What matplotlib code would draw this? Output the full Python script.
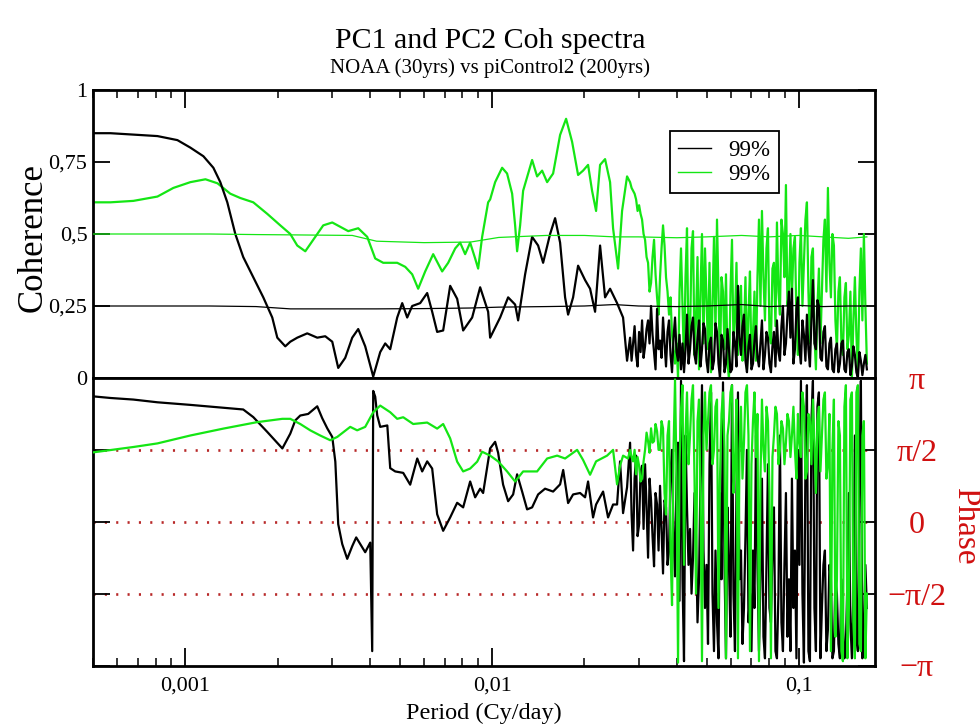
import numpy as np
import matplotlib
matplotlib.use('Agg')
import matplotlib.pyplot as plt
from matplotlib.ticker import FixedLocator, FixedFormatter, LogLocator, NullFormatter
from matplotlib.lines import Line2D

plt.rcParams['font.family'] = ['Liberation Serif', 'DejaVu Serif']

# ---------------- data ----------------
# shared high-frequency grid (cy/day)
f_hi = [0.02816, 0.02848, 0.02880, 0.02913, 0.02946, 0.02979, 0.03013, 0.03047, 0.03081, 0.03116,
        0.03151, 0.03187, 0.03223, 0.03259, 0.03296, 0.03333, 0.03371, 0.03409, 0.03448, 0.03487,
        0.03526, 0.03566, 0.03606, 0.03647, 0.03688, 0.03730, 0.03772, 0.03815, 0.03858, 0.03902,
        0.03946, 0.03991, 0.04036, 0.04081, 0.04127, 0.04174, 0.04221, 0.04269, 0.04317, 0.04366,
        0.04416, 0.04466, 0.04516, 0.04567, 0.04619, 0.04671, 0.04724, 0.04777, 0.04831, 0.04886,
        0.04941, 0.04997, 0.05054, 0.05111, 0.05169, 0.05227, 0.05286, 0.05346, 0.05407, 0.05468,
        0.05530, 0.05593, 0.05656, 0.05720, 0.05784, 0.05850, 0.05916, 0.05983, 0.06051, 0.06119,
        0.06188, 0.06258, 0.06329, 0.06401, 0.06473, 0.06546, 0.06620, 0.06695, 0.06771, 0.06848,
        0.06925, 0.07003, 0.07083, 0.07163, 0.07244, 0.07326, 0.07409, 0.07493, 0.07577, 0.07663,
        0.07750, 0.07838, 0.07926, 0.08016, 0.08106, 0.08198, 0.08291, 0.08385, 0.08479, 0.08575,
        0.08672, 0.08770, 0.08870, 0.08970, 0.09071, 0.09174, 0.09278, 0.09383, 0.09489, 0.09596,
        0.09705, 0.09815, 0.09926, 0.10038, 0.10152, 0.10267, 0.10383, 0.10500, 0.10619, 0.10739,
        0.10861, 0.10984, 0.11108, 0.11234, 0.11361, 0.11489, 0.11619, 0.11751, 0.11884, 0.12018,
        0.12154, 0.12292, 0.12431, 0.12572, 0.12714, 0.12858, 0.13003, 0.13150, 0.13299, 0.13449,
        0.13601, 0.13755, 0.13911, 0.14068, 0.14227, 0.14388, 0.14551, 0.14716, 0.14882, 0.15050,
        0.15221, 0.15393, 0.15567, 0.15743, 0.15921, 0.16101, 0.16284, 0.16468, 0.16654]

# coherence, black (PC1) - low-frequency part
coh_black_f = [0.000502, 0.000570, 0.000677, 0.000811, 0.000942, 0.001038, 0.001145, 0.001234, 0.001300,
               0.001370, 0.001455, 0.001544, 0.001665, 0.001795, 0.001920, 0.001994, 0.002117, 0.002198,
               0.002316, 0.002496, 0.002691, 0.002857, 0.003012, 0.003150, 0.003320, 0.003499, 0.003660,
               0.003857, 0.004096, 0.004317, 0.004482, 0.004653, 0.004904, 0.005092, 0.005286, 0.005488,
               0.005827, 0.006141, 0.006376, 0.006619, 0.006924, 0.007298, 0.007691, 0.008045, 0.008607,
               0.009139, 0.009704, 0.009851, 0.010618, 0.011276, 0.011883, 0.012154, 0.012808, 0.013499,
               0.014121, 0.014661, 0.015451, 0.016041, 0.016654, 0.017290, 0.017685, 0.018361, 0.019062,
               0.020089, 0.020857, 0.021654, 0.022482, 0.023341, 0.024233, 0.025539, 0.026717, 0.027528]
coh_black_lo = [0.85, 0.85, 0.845, 0.84, 0.826, 0.80, 0.77, 0.73, 0.68,
                0.61, 0.50, 0.42, 0.35, 0.28, 0.21, 0.14, 0.11, 0.126,
                0.14, 0.155, 0.14, 0.145, 0.126, 0.035, 0.07, 0.14, 0.17,
                0.11, 0.005, 0.09, 0.12, 0.10, 0.21, 0.26, 0.21, 0.25,
                0.26, 0.295, 0.23, 0.16, 0.165, 0.32, 0.275, 0.165, 0.21,
                0.315, 0.23, 0.14, 0.21, 0.28, 0.255, 0.20, 0.36, 0.49,
                0.46, 0.40, 0.50, 0.555, 0.47, 0.28, 0.22, 0.28, 0.39,
                0.34, 0.31, 0.23, 0.46, 0.28, 0.31, 0.26, 0.21, 0.06]
coh_black_hi = [0.14, 0.06, 0.12, 0.18, 0.08, 0.04, 0.16, 0.09, 0.20, 0.07, 0.11, 0.17, 0.20, 0.12, 0.25, 0.15, 0.09, 0.03, 0.24, 0.10,
                0.13, 0.07, 0.21, 0.12, 0.04, 0.16, 0.20, 0.08, 0.02, 0.14, 0.21, 0.09, 0.06, 0.15, 0.03, 0.12, 0.02, 0.10, 0.22, 0.05,
                0.10, 0.18, 0.21, 0.08, 0.05, 0.14, 0.20, 0.04, 0.10, 0.19, 0.17, 0.06, 0.02, 0.12, 0.14, 0.03, 0.06, 0.19, 0.16, 0.05,
                0.00, 0.15, 0.13, 0.02, 0.05, 0.17, 0.10, 0.02, 0.03, 0.16, 0.12, 0.04, 0.32, 0.14, 0.08, 0.18, 0.22, 0.06, 0.02, 0.11,
                0.15, 0.03, 0.05, 0.13, 0.18, 0.07, 0.04, 0.12, 0.20, 0.03, 0.08, 0.16, 0.14, 0.05, 0.02, 0.11, 0.16, 0.04, 0.20, 0.09,
                0.06, 0.18, 0.25, 0.08, 0.12, 0.22, 0.30, 0.14, 0.31, 0.05, 0.10, 0.24, 0.28, 0.10, 0.05, 0.20, 0.15, 0.06, 0.22, 0.10,
                0.04, 0.20, 0.34, 0.12, 0.10, 0.27, 0.25, 0.07, 0.06, 0.16, 0.18, 0.04, 0.03, 0.12, 0.14, 0.03, 0.02, 0.10, 0.12, 0.02,
                0.05, 0.12, 0.13, 0.03, 0.02, 0.09, 0.10, 0.01, 0.04, 0.11, 0.08, 0.02, 0.00, 0.09, 0.06, 0.01, 0.05, 0.08, 0.03]

# coherence, green (PC2) - low-frequency part
coh_green_f = [0.000502, 0.000570, 0.000677, 0.000811, 0.000914, 0.001038, 0.001163, 0.001273, 0.001401,
               0.001510, 0.001665, 0.001849, 0.002039, 0.002198, 0.002316, 0.002460, 0.002611, 0.002815,
               0.003012, 0.003198, 0.003396, 0.003660, 0.003916, 0.004158, 0.004415, 0.004904, 0.005208,
               0.005488, 0.005740, 0.006050, 0.006424, 0.006872, 0.007190, 0.007580, 0.007866, 0.008166,
               0.008479, 0.008803, 0.009003, 0.009277, 0.009704, 0.009851, 0.010227, 0.010778, 0.011187,
               0.011619, 0.011883, 0.012062, 0.012337, 0.012618, 0.013499, 0.014014, 0.014553, 0.015110,
               0.015803, 0.016654, 0.017420, 0.018224, 0.019062, 0.019788, 0.020545, 0.021172, 0.021817,
               0.022482, 0.023341, 0.024233, 0.024786, 0.025736, 0.026517, 0.027528]
coh_green_lo = [0.61, 0.61, 0.615, 0.63, 0.66, 0.68, 0.69, 0.676, 0.64,
                0.625, 0.61, 0.57, 0.53, 0.50, 0.46, 0.44, 0.48, 0.53,
                0.54, 0.525, 0.51, 0.52, 0.49, 0.415, 0.40, 0.40, 0.386,
                0.36, 0.31, 0.37, 0.43, 0.37, 0.40, 0.45, 0.47, 0.43,
                0.47, 0.415, 0.38, 0.49, 0.61, 0.62, 0.68, 0.73, 0.71,
                0.64, 0.53, 0.44, 0.53, 0.65, 0.757, 0.70, 0.72, 0.68,
                0.71, 0.844, 0.90, 0.82, 0.705, 0.72, 0.74, 0.65, 0.58,
                0.74, 0.76, 0.68, 0.52, 0.38, 0.58, 0.70]
coh_green_hi = [0.68, 0.66, 0.65, 0.64, 0.62, 0.58, 0.60, 0.57, 0.55, 0.50, 0.48, 0.42, 0.40, 0.30, 0.33, 0.42, 0.48, 0.36, 0.28, 0.22,
                0.35, 0.45, 0.53, 0.46, 0.35, 0.30, 0.22, 0.28, 0.15, 0.10, 0.05, 0.12, 0.00, 0.30, 0.45, 0.25, 0.05, 0.35, 0.52, 0.10,
                0.15, 0.45, 0.51, 0.08, 0.20, 0.42, 0.03, 0.30, 0.50, 0.12, 0.45, 0.28, 0.10, 0.40, 0.02, 0.25, 0.49, 0.15, 0.55, 0.30,
                0.04, 0.35, 0.30, 0.10, 0.36, 0.05, 0.00, 0.30, 0.48, 0.12, 0.20, 0.40, 0.08, 0.25, 0.32, 0.06, 0.15, 0.35, 0.03, 0.22,
                0.37, 0.05, 0.15, 0.30, 0.06, 0.35, 0.55, 0.25, 0.58, 0.35, 0.20, 0.45, 0.52, 0.15, 0.12, 0.38, 0.40, 0.18, 0.54, 0.30,
                0.22, 0.55, 0.50, 0.35, 0.67, 0.25, 0.30, 0.50, 0.28, 0.45, 0.49, 0.20, 0.08, 0.40, 0.52, 0.25, 0.40, 0.55, 0.61, 0.30,
                0.12, 0.42, 0.45, 0.15, 0.03, 0.25, 0.38, 0.12, 0.30, 0.48, 0.55, 0.30, 0.66, 0.40, 0.28, 0.50, 0.46, 0.20, 0.10, 0.30,
                0.35, 0.12, 0.08, 0.28, 0.33, 0.10, 0.15, 0.30, 0.00, 0.20, 0.35, 0.15, 0.02, 0.30, 0.45, 0.20, 0.50, 0.25, 0.05]

# 99% significance levels of coherence
sig_f = [0.0005, 0.0012, 0.0017, 0.0022, 0.0035, 0.0042, 0.006, 0.0085, 0.0105, 0.015, 0.02,
         0.025, 0.03, 0.04, 0.05, 0.065, 0.08, 0.1, 0.12, 0.145, 0.1665]
sig_black = [0.25, 0.25, 0.248, 0.24, 0.24, 0.24, 0.241, 0.243, 0.246, 0.248, 0.25,
             0.255, 0.25, 0.248, 0.25, 0.255, 0.248, 0.252, 0.248, 0.25, 0.25]
sig_green = [0.5, 0.5, 0.498, 0.497, 0.495, 0.475, 0.47, 0.472, 0.488, 0.495, 0.495,
             0.49, 0.49, 0.487, 0.49, 0.495, 0.49, 0.495, 0.49, 0.485, 0.49]

# phase (in units of pi), black (PC1)
ph_black_f = [0.000502, 0.000570, 0.000677, 0.000811, 0.001038, 0.001271, 0.001544, 0.001665, 0.001849,
              0.002071, 0.002198, 0.002282, 0.002369, 0.002514, 0.002691, 0.002794, 0.002901, 0.003012,
              0.003082, 0.003150, 0.003246, 0.003370, 0.003499, 0.003605, 0.003715, 0.003857, 0.004005,
              0.004065, 0.004096, 0.004158, 0.004221, 0.004317, 0.004553, 0.004653, 0.004831, 0.005130,
              0.005406, 0.005700, 0.005915, 0.006141, 0.006376, 0.006619, 0.006924, 0.007298, 0.007691,
              0.008045, 0.008479, 0.008803, 0.009139, 0.009346, 0.009704, 0.009851, 0.010227, 0.010459,
              0.010858, 0.011276, 0.011707, 0.012062, 0.012524, 0.013001, 0.013499, 0.014121, 0.014876,
              0.015803, 0.016654, 0.017046, 0.017685, 0.018361, 0.019350, 0.020089, 0.020545, 0.021330,
              0.021817, 0.022995, 0.023873, 0.024786, 0.025539, 0.026121, 0.026717, 0.027528]
ph_black_lo = [0.872, 0.861, 0.85, 0.831, 0.813, 0.797, 0.781, 0.728, 0.625,
               0.51, 0.613, 0.705, 0.739, 0.75, 0.803, 0.72, 0.65, 0.59,
               0.418, -0.017, -0.155, -0.258, -0.17, -0.109, -0.155, -0.212, -0.145,
               -0.9, 0.91, 0.87, 0.74, 0.66, 0.67, 0.373, 0.35, 0.34,
               0.258, 0.44, 0.35, 0.42, 0.37, 0.052, -0.063, 0.03, 0.132,
               0.10, 0.28, 0.17, 0.23, 0.20, 0.42, 0.51, 0.556, 0.48,
               0.258, 0.143, 0.19, 0.33, 0.21, 0.086, 0.10, 0.19, 0.23,
               0.21, 0.26, 0.36, 0.13, 0.19, 0.20, 0.17, 0.28, 0.03,
               0.12, 0.21, 0.03, 0.12, 0.12, 0.42, 0.06, 0.24]
ph_black_hi = [0.55, 0.05, -0.2, 0.3, 0.46, -0.1, -0.02, 0.35, 0.39, -0.05, 0.4, 0.1, -0.25, 0.3, 0.15, -0.1, -0.31, 0.2, 0.12, -0.2,
               0.25, -0.05, -0.36, 0.15, 0.1, -0.3, -0.2, 0.35, 0.5, -0.1, -0.38, 0.3, 0.55, -0.55, 0.98, -0.4, -0.97, 0.6, 0.1, -0.3,
               -0.05, -0.5, -0.25, 0.2, -0.1, -0.7, -0.4, 0.3, 0.95, -0.2, -0.6, -0.3, -0.85, 0.4, 0.9, -0.5, -0.9, -0.2, -0.7, -0.95,
               0.2, -0.4, 0.97, -0.3, -0.95, 0.1, -0.3, -0.8, 0.95, -0.5, -0.9, 0.2, 0.9, -0.4, -0.2, -0.85, -0.6, -0.1, 0.5, -0.7,
               -0.5, -0.9, -0.2, -0.6, 0.6, -0.3, -0.9, -0.4, 0.3, -0.8, -0.95, -0.3, 0.4, -0.6, -0.7, -0.2, 0.1, -0.9, -0.95, -0.5,
               0.6, -0.7, -0.9, -0.3, 0.2, -0.8, -0.4, -0.9, 0.3, -0.6, -0.2, -0.95, 0.5, -0.3, 0.98, -0.5, -0.98, 0.4, 0.95, -0.9,
               -0.97, 0.7, 0.98, -0.6, -0.9, 0.8, 0.9, -0.95, -0.6, -0.3, -0.2, -0.9, -0.75, -0.3, -0.4, -0.95, -0.9, -0.4, -0.5, -0.85,
               -0.95, -0.4, -0.7, -0.95, -0.85, -0.4, 0.2, -0.7, -0.95, -0.5, 0.6, -0.8, -0.9, 0.3, 0.98, -0.95, -0.8, -0.3, -0.6]

# phase (in units of pi), green (PC2)
ph_green_f = [0.000502, 0.000570, 0.000677, 0.000811, 0.001038, 0.001330, 0.001714, 0.002071, 0.002198,
              0.002369, 0.002553, 0.002752, 0.002967, 0.003127, 0.003447, 0.003632, 0.003857, 0.004096,
              0.004317, 0.004653, 0.004904, 0.005130, 0.005529, 0.006141, 0.006619, 0.006924, 0.007298,
              0.007691, 0.008045, 0.008479, 0.008938, 0.009277, 0.009851, 0.010459, 0.011187, 0.011883,
              0.012618, 0.014014, 0.015110, 0.016285, 0.017290, 0.018925, 0.019788, 0.020857, 0.021817,
              0.023700, 0.024786, 0.025539, 0.026121, 0.026717, 0.027734]
ph_green_lo = [0.483, 0.499, 0.52, 0.545, 0.60, 0.648, 0.693, 0.716, 0.716,
               0.68, 0.636, 0.60, 0.567, 0.59, 0.66, 0.636, 0.66, 0.762,
               0.808, 0.762, 0.716, 0.727, 0.68, 0.69, 0.648, 0.68, 0.58,
               0.418, 0.35, 0.37, 0.418, 0.487, 0.46, 0.42, 0.35, 0.28,
               0.35, 0.35, 0.44, 0.46, 0.44, 0.50, 0.43, 0.327, 0.42,
               0.46, 0.50, 0.26, 0.39, 0.46, 0.44]
ph_green_hi = [0.5, 0.45, 0.42, 0.5, 0.33, 0.45, 0.39, 0.28, 0.3, 0.42, 0.5, 0.62, 0.56, 0.48, 0.65, 0.55, 0.56, 0.68, 0.63, 0.5,
               0.5, 0.7, 0.65, 0.2, 0.05, 0.6, 0.7, -0.2, -0.58, 0.5, 0.99, 0.3, -0.98, 0.4, 0.78, 0.95, -0.3, 0.6, 0.9, 0.4,
               0.6, 0.85, 0.95, 0.3, -0.5, 0.7, 0.85, 0.2, -0.97, 0.6, 0.9, 0.5, 0.7, 0.9, 0.95, 0.4, 0.5, 0.8, 0.85, -0.6,
               0.3, 0.75, 0.9, 0.5, -0.95, 0.6, 0.7, 0.9, 0.95, 0.2, 0.4, 0.85, -0.95, 0.5, 0.8, 0.3, 0.55, 0.9, 0.95, 0.6,
               -0.9, 0.4, 0.7, 0.9, 0.45, 0.75, -0.97, 0.3, 0.85, 0.5, 0.35, 0.8, 0.7, 0.2, -0.95, 0.45, 0.6, 0.8, 0.75, 0.4,
               0.5, 0.7, 0.65, 0.4, 0.55, 0.75, 0.7, 0.45, 0.6, 0.8, 0.5, 0.3, 0.75, 0.55, 0.45, 0.9, 0.8, 0.3, 0.35, 0.75,
               0.7, 0.4, 0.85, 0.55, 0.2, 0.7, 0.8, 0.35, 0.6, 0.85, 0.9, 0.3, 0.4, 0.75, -0.9, 0.5, 0.85, -0.8, -0.4, 0.7,
               0.6, -0.9, -0.97, 0.8, 0.95, -0.95, -0.6, 0.85, 0.9, -0.7, -0.95, 0.9, 0.95, -0.85, -0.9, 0.6, 0.7, -0.95, -0.5]

coh_ticks = [0, 0.25, 0.5, 0.75, 1]
coh_ticklabels = ['0', '0,25', '0,5', '0,75', '1']
x_ticks = [0.001, 0.01, 0.1]
x_ticklabels = ['0,001', '0,01', '0,1']
phase_ticks = [-1, -0.5, 0, 0.5, 1]
phase_ticklabels = ['\u2212\u03c0', '\u2212\u03c0/2', '0', '\u03c0/2', '\u03c0']
legend_labels = ['99%', '99%']

# ---------------- style ----------------
GREEN = '#14e614'
RED = '#d01010'
DOT = '#b82828'
FW, FH = 980, 727

fig = plt.figure(figsize=(FW / 100, FH / 100), dpi=100)
L, W = 93 / FW, 782 / FW
ax1 = fig.add_axes([L, (FH - 378) / FH, W, 288 / FH])
ax2 = fig.add_axes([L, (FH - 665.5) / FH, W, 287.5 / FH])

xlim = (0.0005, 0.177)

# ---- top: coherence ----
ax1.plot(coh_green_f + f_hi, coh_green_lo + coh_green_hi, color=GREEN, lw=1.6, zorder=2)
ax1.plot(coh_black_f + f_hi, coh_black_lo + coh_black_hi, color='black', lw=1.6, zorder=3)
ax1.plot(sig_f, sig_black, color='black', lw=0.9, zorder=4)
ax1.plot(sig_f, sig_green, color=GREEN, lw=0.9, zorder=4)

ax1.set_xscale('log')
ax1.set_xlim(*xlim)
ax1.set_ylim(0, 1)
ax1.yaxis.set_major_locator(FixedLocator(coh_ticks))
ax1.yaxis.set_major_formatter(FixedFormatter(coh_ticklabels))
ax1.xaxis.set_major_locator(FixedLocator(x_ticks))
ax1.xaxis.set_minor_locator(LogLocator(base=10, subs=np.arange(2, 10)))
ax1.xaxis.set_minor_formatter(NullFormatter())
ax1.tick_params(axis='x', which='both', direction='in', top=True, bottom=False,
                labelbottom=False, labeltop=False)
ax1.tick_params(axis='x', which='major', length=13, width=1.3)
ax1.tick_params(axis='x', which='minor', length=6, width=1.1)
ax1.tick_params(axis='y', which='major', direction='in', left=True, right=True,
                length=12, width=1.3, labelsize=16, pad=4)
for sp in ax1.spines.values():
    sp.set_linewidth(2.0)

handles = [Line2D([], [], color='black', lw=1.0), Line2D([], [], color=GREEN, lw=1.0)]
leg = ax1.legend(handles, legend_labels, loc='upper left', bbox_to_anchor=(0.738, 0.856),
                 frameon=True, fancybox=False, framealpha=1, edgecolor='black',
                 fontsize=16.5, handlelength=1.45, handletextpad=0.75, borderpad=0.35,
                 labelspacing=0.15, borderaxespad=0)
leg.get_frame().set_linewidth(1.3)
leg.set_zorder(10)

# ---- bottom: phase ----
for yv in [-0.5, 0, 0.5]:
    ax2.axhline(yv, color=DOT, lw=1.9, ls=(0, (0.8, 3.5)), zorder=1)
ax2.plot(ph_black_f + f_hi, ph_black_lo + ph_black_hi, color='black', lw=1.6, zorder=2)
ax2.plot(ph_green_f + f_hi, ph_green_lo + ph_green_hi, color=GREEN, lw=1.6, zorder=3)

ax2.set_xscale('log')
ax2.set_xlim(*xlim)
ax2.set_ylim(-1, 1)
ax2.xaxis.set_major_locator(FixedLocator(x_ticks))
ax2.xaxis.set_major_formatter(FixedFormatter(x_ticklabels))
ax2.xaxis.set_minor_locator(LogLocator(base=10, subs=np.arange(2, 10)))
ax2.xaxis.set_minor_formatter(NullFormatter())
ax2.tick_params(axis='x', which='both', direction='in', top=False, bottom=True,
                labelsize=16, pad=8)
ax2.tick_params(axis='x', which='major', length=13, width=1.3)
ax2.tick_params(axis='x', which='minor', length=6, width=1.1)
ax2.yaxis.set_major_locator(FixedLocator(phase_ticks))
ax2.yaxis.set_major_formatter(FixedFormatter(phase_ticklabels))
ax2.tick_params(axis='y', which='major', direction='in', left=True, right=True,
                labelleft=False, labelright=True, length=12, width=1.3,
                labelsize=23, labelcolor=RED, pad=30)
for lab in ax2.get_yticklabels():
    lab.set_horizontalalignment('center')
for sp in ax2.spines.values():
    sp.set_linewidth(2.0)

ax2.set_xlabel('Period (Cy/day)', fontsize=17.5, labelpad=5)

# ---- texts ----
fig.text(0.5, 1 - 48 / FH, 'PC1 and PC2 Coh spectra', ha='center', va='baseline', fontsize=21.5)
fig.text(0.5, 1 - 73 / FH, 'NOAA (30yrs) vs piControl2 (200yrs)', ha='center', va='baseline', fontsize=15)
fig.text(33 / FW, 1 - 237 / FH, 'Coherence', rotation=90, ha='center', va='center', fontsize=25)
fig.text(965 / FW, 1 - 526 / FH, 'Phase', rotation=270, ha='center', va='center',
         fontsize=24, color=RED)

fig.savefig('out.png', dpi=100)
